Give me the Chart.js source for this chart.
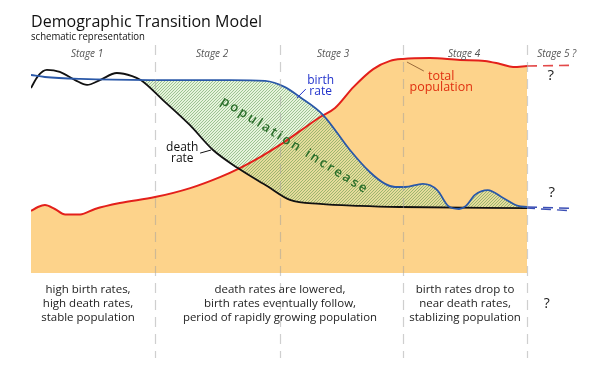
<!DOCTYPE html>
<html>
<head>
<meta charset="utf-8">
<script src="https://cdn.jsdelivr.net/npm/chart.js@4"></script>
<style>
  body { margin: 0; background: #fff; }
  canvas { display: block; }
</style>
</head>
<body>
<canvas id="chart" width="600" height="371"></canvas>
<script>
'use strict';

// time runs 0..100 over the four stages, 100..110 is the "stage 5 ?" stub
// rates are a schematic 0..100 index
const stageEdges = [25, 50.2, 75, 100];
const stageNames = ['Stage 1', 'Stage 2', 'Stage 3', 'Stage 4', 'Stage 5 ?'];
const stageLabelX = [11.3, 36.5, 60.9, 87.3, 106];

const birthRate = [
  [0, 90], [2.8, 89.1], [9.9, 88.2], [24, 87.7], [40.1, 87.7], [47.2, 87.3],
  [51.2, 84.5], [54.2, 80], [58.9, 71.8], [64.3, 55.9], [68.3, 45.9],
  [71.4, 40.5], [73.4, 39.1], [75.4, 39.1], [79, 40.5], [81.9, 37.7],
  [84.1, 30.5], [86.3, 29.1], [87.7, 30.5], [89.5, 35.5], [92.1, 37.7],
  [95.2, 34.1], [98.2, 30.5], [100, 30]
];

const deathRate = [
  [0, 84.1], [1.4, 89.5], [3.2, 92.3], [5.8, 91.4], [8.9, 87.7], [11.3, 85.5],
  [13.9, 87.7], [17.3, 90.9], [20.4, 89.5], [22.2, 87.6], [26.6, 78.6],
  [32, 67.3], [36.7, 55.9], [41.7, 47.7], [47.6, 39.5], [52.2, 33.2],
  [58.3, 31.4], [66.3, 30.5], [74.4, 30], [100, 29.5]
];

const totalPopulation = [
  [0, 28.2], [1.4, 30], [2.8, 30.9], [4.8, 29.1], [6.9, 26.6], [9.9, 26.6],
  [12.9, 29.1], [17.9, 31.8], [25, 34.5], [32.1, 38.6], [38.1, 43.6],
  [42.1, 47.7], [46.2, 52.7], [50.2, 58.2], [54.2, 64.5], [58.3, 70.9],
  [61.3, 75], [65, 84.5], [69, 92.7], [72.4, 96.4], [75, 97.3], [80.4, 97.7],
  [86.5, 96.8], [91.5, 96.4], [94.6, 95], [97.2, 93.6], [100, 94.1]
];

// dashed "unknown future" stubs
const populationFuture = [[100, 94.1], [109.5, 94.4]];
const birthFuture = [[100, 30], [109, 29.4]];
const deathFuture = [[100, 29.5], [109, 28.3]];

const stageNotes = [
  ['high birth rates,', 'high death rates,', 'stable population'],
  ['death rates are lowered,', 'birth rates eventually follow,', 'period of rapidly growing population'],
  ['birth rates drop to', 'near death rates,', 'stablizing population'],
  ['?']
];
const stageNoteX = [11.5, 50.2, 87.5, 104];

// hatch starts where the death rate falls below the birth rate
const hatchStart = 22.2;

const toXY = (list) => list.map(([x, y]) => ({x: x, y: y}));

function hatchPattern() {
  const c = document.createElement('canvas');
  c.width = 3;
  c.height = 3;
  const g = c.getContext('2d');
  g.fillStyle = 'rgba(200,228,175,0.45)';
  g.fillRect(0, 0, 3, 3);
  g.strokeStyle = 'rgba(70,140,60,0.58)';
  g.lineWidth = 0.8;
  g.beginPath();
  g.moveTo(-1, 4); g.lineTo(4, -1);
  g.moveTo(-1, 1); g.lineTo(1, -1);
  g.moveTo(2, 4); g.lineTo(4, 2);
  g.stroke();
  return document.createElement('canvas').getContext('2d').createPattern(c, 'repeat');
}

const FONT = '"Open Sans", "Noto Sans", sans-serif';

const annotations = {
  id: 'annotations',
  afterDatasetsDraw(chart) {
    const ctx = chart.ctx;
    const xs = chart.scales.x;
    const ys = chart.scales.y;
    const px = (v) => xs.getPixelForValue(v);
    const py = (v) => ys.getPixelForValue(v);

    ctx.save();

    // stage separators
    ctx.strokeStyle = 'rgba(160,160,160,0.5)';
    ctx.lineWidth = 1.2;
    ctx.setLineDash([10, 7]);
    for (const s of stageEdges) {
      ctx.beginPath();
      ctx.moveTo(Math.round(px(s)) + 0.5, 45);
      ctx.lineTo(Math.round(px(s)) + 0.5, 358);
      ctx.stroke();
    }
    ctx.setLineDash([]);

    // title
    ctx.fillStyle = '#111';
    ctx.textAlign = 'left';
    ctx.textBaseline = 'alphabetic';
    ctx.font = '17px ' + FONT;
    ctx.fillText('Demographic Transition Model', 31, 27, 231);
    ctx.font = '11px ' + FONT;
    ctx.fillText('schematic representation', 31, 40, 114);

    // stage names
    ctx.textAlign = 'center';
    ctx.textBaseline = 'middle';
    ctx.fillStyle = '#555';
    ctx.font = 'italic 10px ' + FONT;
    stageNames.forEach((name, i) => ctx.fillText(name, px(stageLabelX[i]), 54));

    // curve labels
    const label = (lines, x, y, color, size) => {
      ctx.fillStyle = color;
      ctx.font = size + 'px ' + FONT;
      lines.forEach((t, i) => ctx.fillText(t, px(x), py(y) + i * size * 0.9));
    };
    const leader = (x1, y1, x2, y2, color) => {
      ctx.strokeStyle = color;
      ctx.lineWidth = 1;
      ctx.beginPath();
      ctx.moveTo(px(x1), py(y1));
      ctx.lineTo(px(x2), py(y2));
      ctx.stroke();
    };
    label(['birth', 'rate'], 58.4, 87.3, '#2233cc', 12);
    leader(53.6, 79.5, 55.4, 83.6, '#2233cc');
    label(['total', 'population'], 82.7, 89.5, '#e03010', 12.5);
    leader(75.8, 95.9, 79.2, 91.8, '#9a6a3a');
    label(['death', 'rate'], 30.5, 56.8, '#111', 12);
    leader(34.1, 54.5, 36.3, 55.9, '#111');

    ctx.fillStyle = '#222';
    ctx.font = '15px ' + FONT;
    ctx.fillText('?', px(104.8), py(89.5));
    ctx.fillText('?', px(105), py(36.4));

    // rotated area label, spaced letters
    ctx.save();
    ctx.translate(px(53), py(58.2));
    ctx.rotate(32 * Math.PI / 180);
    ctx.fillStyle = '#2a6e2a';
    ctx.font = '600 13px ' + FONT;
    ctx.textAlign = 'left';
    const word = 'population increase';
    const gap = 2.5;
    let total = 0;
    for (const ch of word) total += ctx.measureText(ch).width + gap;
    total -= gap;
    let cx = -total / 2;
    for (const ch of word) {
      ctx.fillText(ch, cx, 0);
      cx += ctx.measureText(ch).width + gap;
    }
    ctx.restore();

    // notes under the chart
    ctx.fillStyle = '#222';
    ctx.textAlign = 'center';
    stageNotes.forEach((lines, i) => {
      if (lines.length === 1) {
        ctx.font = '14px ' + FONT;
        ctx.fillText(lines[0], px(stageNoteX[i]), 304);
        return;
      }
      ctx.font = '11.5px ' + FONT;
      lines.forEach((t, j) => ctx.fillText(t, px(stageNoteX[i]), 290 + j * 14, 194));
    });

    ctx.restore();
  }
};

const line = (data, color, width, order, extra) => Object.assign({
  data: toXY(data),
  borderColor: color,
  borderWidth: width,
  pointRadius: 0,
  fill: false,
  cubicInterpolationMode: 'monotone',
  order: order,
}, extra || {});

new Chart(document.getElementById('chart'), {
  type: 'line',
  data: {
    datasets: [
      line(totalPopulation, 'rgba(0,0,0,0)', 0, 10, {fill: 'origin', backgroundColor: '#fdd38b'}),
      line(deathRate.filter(p => p[0] >= hatchStart), 'rgba(0,0,0,0)', 0, 9),
      line(birthRate, 'rgba(0,0,0,0)', 0, 8, {
        fill: {target: 1, above: hatchPattern(), below: 'rgba(0,0,0,0)'}
      }),
      line(totalPopulation, '#e3201b', 2, 4),
      line(deathRate, '#111111', 1.8, 3),
      line(birthRate, '#2a58a8', 1.8, 2),
      line(populationFuture, '#e34a4a', 1.6, 1, {borderDash: [10, 6]}),
      line(birthFuture, '#3b4fb5', 1.6, 1, {borderDash: [10, 6]}),
      line(deathFuture, '#3b4fb5', 1.4, 1, {borderDash: [10, 6], borderDashOffset: 2}),
    ]
  },
  options: {
    responsive: false,
    animation: false,
    layout: {
      padding: {left: 31, right: 23.4, top: 53, bottom: 98}
    },
    plugins: {
      legend: {display: false},
      tooltip: {enabled: false}
    },
    scales: {
      x: {type: 'linear', min: 0, max: 110, display: false},
      y: {min: 0, max: 100, display: false}
    }
  },
  plugins: [annotations]
});
</script>
</body>
</html>
